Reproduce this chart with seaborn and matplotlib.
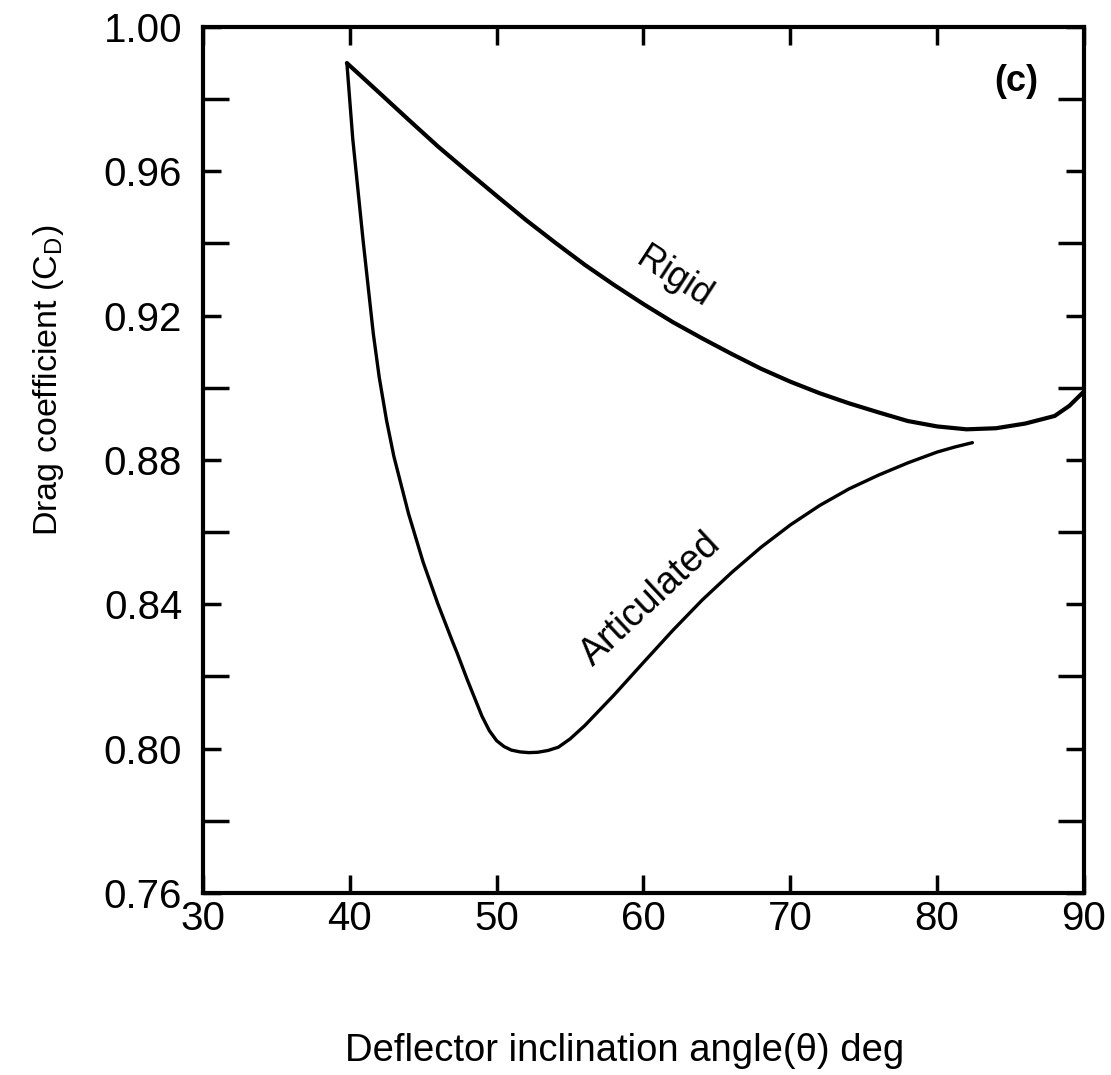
import matplotlib
matplotlib.use("Agg")
import matplotlib.pyplot as plt
import seaborn as sns
import pandas as pd
from matplotlib.ticker import MultipleLocator

# Drag coefficient vs deflector inclination angle
rigid_angle = [39.8, 42.0, 44.0, 46.0, 48.0, 50.0, 52.0, 54.0, 56.0, 58.0,
               60.0, 62.0, 64.0, 66.0, 68.0, 70.0, 72.0, 74.0, 76.0, 78.0,
               80.0, 82.0, 84.0, 86.0, 88.0, 89.0, 90.0]
rigid_cd = [0.9900, 0.9818, 0.9743, 0.9669, 0.9600, 0.9532, 0.9465, 0.9402, 0.9341, 0.9285,
            0.9232, 0.9182, 0.9137, 0.9094, 0.9053, 0.9017, 0.8985, 0.8957, 0.8932, 0.8908,
            0.8893, 0.8885, 0.8888, 0.8901, 0.8922, 0.8950, 0.8990]

art_angle = [39.8, 40.2, 40.9, 41.6, 42.0, 42.5, 43.0, 44.0, 45.0, 46.0, 47.0,
             47.3, 48.0, 49.0, 49.5, 50.0, 50.5, 51.0, 51.6, 52.2, 52.8,
             53.5, 54.2, 55.0, 56.0, 58.0, 60.0, 62.0, 64.0, 66.0, 68.0,
             70.0, 72.0, 74.0, 76.0, 78.0, 80.0, 81.2, 82.4]
art_cd = [0.9900, 0.9690, 0.9410, 0.9150, 0.9030, 0.8910, 0.8810, 0.8651, 0.8516, 0.8401, 0.8296,
          0.8266, 0.8191, 0.8090, 0.8050, 0.8022, 0.8006, 0.7996, 0.7991, 0.7989, 0.7990,
          0.7995, 0.8004, 0.8027, 0.8064, 0.8149, 0.8239, 0.8328, 0.8412, 0.8488, 0.8558,
          0.8620, 0.8674, 0.8720, 0.8758, 0.8792, 0.8822, 0.8836, 0.8848]

x_ticks = [30, 40, 50, 60, 70, 80, 90]
y_ticks = [0.76, 0.80, 0.84, 0.88, 0.92, 0.96, 1.00]
y_tick_labels = ["0.76", "0.80", "0.84", "0.88", "0.92", "0.96", "1.00"]

sns.set_style("ticks")
plt.rcParams["font.family"] = ["Liberation Sans", "DejaVu Sans"]
plt.rcParams["text.color"] = "black"
plt.rcParams["axes.labelcolor"] = "black"
plt.rcParams["xtick.color"] = "black"
plt.rcParams["ytick.color"] = "black"

rigid_df = pd.DataFrame({"angle": rigid_angle, "cd": rigid_cd})
art_df = pd.DataFrame({"angle": art_angle, "cd": art_cd})

fig = plt.figure(figsize=(11.11, 10.75), dpi=100)
ax = fig.add_axes([0.1827, 0.1693, 0.7930, 0.8056])

sns.lineplot(data=rigid_df, x="angle", y="cd", ax=ax, color="black",
             linewidth=3.0, sort=False, estimator=None)
sns.lineplot(data=art_df, x="angle", y="cd", ax=ax, color="black",
             linewidth=2.4, sort=False, estimator=None)
for ln in ax.get_lines():
    ln.set_solid_joinstyle("round")
    ln.set_solid_capstyle("round")

ax.set_xlim(30, 90)
ax.set_ylim(0.76, 1.00)
ax.set_xticks(x_ticks)
ax.set_xticklabels([str(t) for t in x_ticks])
ax.set_yticks(y_ticks)
ax.set_yticklabels(y_tick_labels)
ax.yaxis.set_minor_locator(MultipleLocator(0.02))

for s in ax.spines.values():
    s.set_linewidth(3.0)
    s.set_color("black")

ax.tick_params(axis="both", which="major", direction="in", length=13, width=2.5,
               labelsize=29, top=True, right=True, colors="black")
ax.tick_params(axis="x", which="major", pad=5)
ax.tick_params(axis="y", which="major", pad=15)
ax.tick_params(axis="y", which="minor", direction="in", length=19, width=2.5,
               right=True, colors="black")

ax.set_xlabel("Deflector inclination angle(θ) deg", fontsize=27.5)
ax.set_ylabel(r"Drag coefficient (C$_\mathregular{D}$)", fontsize=24.5)
ax.xaxis.set_label_coords(0.479, -0.162)
ax.yaxis.set_label_coords(-0.156, 0.592)

ax.text(85.4, 0.9848, "(c)", fontsize=26, fontweight="bold", ha="center", va="center")
ax.text(62.1, 0.9305, "Rigid", fontsize=26, rotation=-33, ha="center", va="center")
ax.text(60.5, 0.8415, "Articulated", fontsize=27, rotation=43, ha="center", va="center")

fig.savefig("out.png", dpi=100)
